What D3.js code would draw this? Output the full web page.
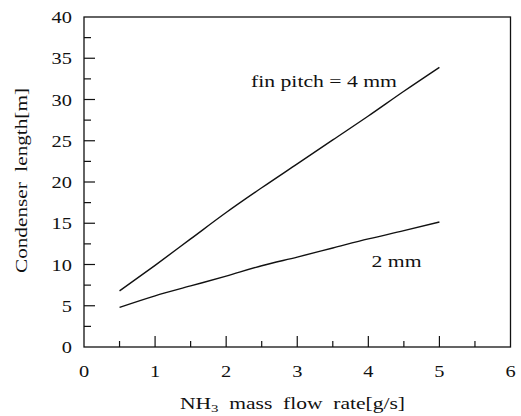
<!DOCTYPE html>
<html>
<head>
<meta charset="utf-8">
<script src="https://cdn.jsdelivr.net/npm/d3@7"></script>
<style>
  body { margin: 0; background: #fff; }
  text { font-family: "Liberation Serif", "Times New Roman", serif; fill: #111; white-space: pre; }
</style>
</head>
<body>
<script>
// mass flow rate [g/s]
var flowRate = [0.5, 1, 1.5, 2, 2.5, 3, 3.5, 4, 4.5, 5];
// condenser length [m] for each fin pitch
var pitch4mm = [6.8, 9.9, 13.1, 16.3, 19.3, 22.2, 25.1, 28.0, 31.0, 33.9];
var pitch2mm = [4.8, 6.2, 7.4, 8.6, 9.85, 10.9, 12.0, 13.1, 14.1, 15.15];
var xTicks = [0, 1, 2, 3, 4, 5, 6];
var yTicks = [0, 5, 10, 15, 20, 25, 30, 35, 40];

var width = 521,
    height = 416,
    margin = {top: 17, right: 10.5, bottom: 69, left: 84};

var x = d3.scaleLinear().domain([0, 6]).range([margin.left, width - margin.right]);
var y = d3.scaleLinear().domain([0, 40]).range([height - margin.bottom, margin.top]);

var svg = d3.select("body").append("svg")
    .attr("width", width)
    .attr("height", height);

// frame
svg.append("rect")
    .attr("x", x(0)).attr("y", y(40))
    .attr("width", x(6) - x(0)).attr("height", y(0) - y(40))
    .attr("fill", "none").attr("stroke", "#111").attr("stroke-width", 1.3);

// inward ticks, major and minor
var xMinor = d3.range(0.5, 6, 1);
var yMinor = d3.range(2.5, 40, 5);

svg.append("g").selectAll("line")
    .data(xTicks.slice(1, -1).map(function(d) { return [d, 11]; })
      .concat(xMinor.map(function(d) { return [d, 6]; })))
  .enter().append("line")
    .attr("x1", function(d) { return x(d[0]); })
    .attr("x2", function(d) { return x(d[0]); })
    .attr("y1", y(0))
    .attr("y2", function(d) { return y(0) - d[1]; })
    .attr("stroke", "#111").attr("stroke-width", 1.2);

svg.append("g").selectAll("line")
    .data(yTicks.slice(1, -1).map(function(d) { return [d, 11]; })
      .concat(yMinor.map(function(d) { return [d, 7]; })))
  .enter().append("line")
    .attr("y1", function(d) { return y(d[0]); })
    .attr("y2", function(d) { return y(d[0]); })
    .attr("x1", x(0))
    .attr("x2", function(d) { return x(0) + d[1]; })
    .attr("stroke", "#111").attr("stroke-width", 1.2);

// tick labels (glyphs in the scan are a bit wide, so stretch them)
svg.append("g").selectAll("text")
    .data(xTicks)
  .enter().append("text")
    .attr("transform", function(d) { return "translate(" + x(d) + "," + (y(0) + 30) + ") scale(1.2,1)"; })
    .attr("text-anchor", "middle")
    .style("font-size", "17px")
    .text(function(d) { return d; });

svg.append("g").selectAll("text")
    .data(yTicks)
  .enter().append("text")
    .attr("transform", function(d) { return "translate(" + (x(0) - 12) + "," + (y(d) + 6) + ") scale(1.2,1)"; })
    .attr("text-anchor", "end")
    .style("font-size", "17px")
    .text(function(d) { return d; });

// lines
var line = d3.line()
    .x(function(d) { return x(d[0]); })
    .y(function(d) { return y(d[1]); })
    .curve(d3.curveMonotoneX);

[pitch4mm, pitch2mm].forEach(function(series) {
  svg.append("path")
      .datum(flowRate.map(function(f, i) { return [f, series[i]]; }))
      .attr("d", line)
      .attr("fill", "none")
      .attr("stroke", "#111")
      .attr("stroke-width", 1.4);
});

// annotations
svg.append("text")
    .attr("x", 251).attr("y", 87)
    .attr("textLength", 146).attr("lengthAdjust", "spacingAndGlyphs")
    .style("font-size", "17px")
    .text("fin pitch = 4 mm");

svg.append("text")
    .attr("x", 371.5).attr("y", 267)
    .attr("textLength", 50).attr("lengthAdjust", "spacingAndGlyphs")
    .style("font-size", "17px")
    .text("2 mm");

// axis titles
var xt = svg.append("text")
    .attr("x", 180).attr("y", 409)
    .attr("textLength", 225).attr("lengthAdjust", "spacingAndGlyphs")
    .style("font-size", "16px");
xt.append("tspan").text("NH");
xt.append("tspan").attr("dy", 3).style("font-size", "11px").text("3");
xt.append("tspan").attr("dy", -3).text("  mass  flow  rate[g/s]");

svg.append("text")
    .attr("transform", "translate(27,273) rotate(-90)")
    .attr("textLength", 185).attr("lengthAdjust", "spacingAndGlyphs")
    .style("font-size", "17px")
    .text("Condenser  length[m]");
</script>
</body>
</html>
